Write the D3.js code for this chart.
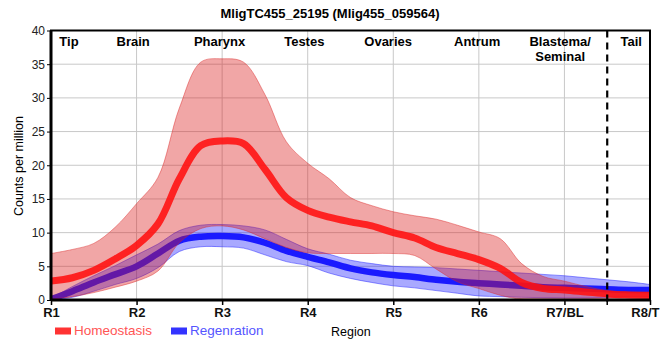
<!DOCTYPE html>
<html><head><meta charset="utf-8">
<script src="https://cdn.jsdelivr.net/npm/d3@7"></script>
<style>
html,body{margin:0;padding:0;background:#fff;}
svg{display:block;font-family:"Liberation Sans",Arial,sans-serif;}
</style></head>
<body><svg id="chart" width="660" height="360"></svg>
<script>
const title = "MligTC455_25195 (Mlig455_059564)";
const tickLabels = ["R1","R2","R3","R4","R5","R6","R7/BL","R8/T"];
const yTicks = [0,5,10,15,20,25,30,35,40];
const regionNames = [["Tip"],["Brain"],["Pharynx"],["Testes"],["Ovaries"],["Antrum"],["Blastema/","Seminal"],["Tail"]];
const regionPos = [1.21,1.96,2.97,3.96,4.94,5.98,6.95,7.78];
const dividerPos = 7.5;
const positions = [1,1.25,1.5,1.75,2,2.25,2.5,2.75,3,3.25,3.5,3.75,4,4.25,4.5,4.75,5,5.25,5.5,5.75,6,6.25,6.5,6.75,7,7.25,7.5,7.75,8];
const homeoMean = [2.8,3.3,4.4,6.1,8.1,11.3,18.0,22.9,23.6,23.2,19.4,15.2,13.3,12.3,11.6,11.0,10.0,9.2,7.8,6.9,6.0,4.7,2.6,1.7,1.5,1.2,0.9,0.75,0.65];
const homeoUpper = [6.9,7.5,8.4,10.8,14.3,18.2,28.5,35.3,35.8,35.3,30.5,23.5,20.3,18.0,15.2,14.0,13.1,12.5,12.0,11.1,10.1,9.1,5.4,3.5,2.8,2.0,1.4,1.2,1.2];
const homeoLower = [0.1,0.5,1.1,1.9,2.8,4.3,8.5,10.6,11.0,10.4,9.1,7.8,7.0,6.9,6.9,6.9,6.9,6.6,4.6,2.7,1.7,0.7,0.1,0,0,0,0,0,0];
const regenMean = [0.1,1.3,2.6,3.8,5.0,6.9,8.8,9.4,9.5,9.3,8.5,7.3,6.4,5.6,4.7,4.1,3.7,3.4,3.0,2.7,2.5,2.3,2.1,1.9,1.8,1.7,1.6,1.5,1.5];
const regenUpper = [0.2,2.0,3.6,5.1,6.7,8.3,10.3,11.1,11.2,11.0,10.4,9.0,7.6,6.8,5.9,5.4,5.0,4.9,4.8,4.6,4.4,4.2,4.0,3.8,3.6,3.3,3.0,2.7,2.3];
const regenLower = [0,0.4,1.3,2.3,3.2,4.8,7.2,7.9,7.9,7.7,6.7,5.7,5.1,4.0,3.2,2.6,2.1,1.8,1.4,1.0,0.6,0.5,0.4,0.35,0.3,0.3,0.4,0.5,0.5];
const seriesNames = ["Homeostasis","Regenration"];

const svg = d3.select("#chart");
const x = d3.scaleLinear().domain([1,8]).range([51,650]);
const y = d3.scaleLinear().domain([0,40]).range([300,30.5]);

// grid
const g = svg.append("g");
g.selectAll(".vg").data(d3.range(2,8)).enter().append("line")
  .attr("x1",d=>x(d)).attr("x2",d=>x(d)).attr("y1",y(0)).attr("y2",y(40))
  .attr("stroke","#c8c8c8").attr("stroke-width",1);
g.selectAll(".hg").data(yTicks.slice(1,-1)).enter().append("line")
  .attr("x1",x(1)).attr("x2",x(8)).attr("y1",d=>y(d)).attr("y2",d=>y(d))
  .attr("stroke","#c8c8c8").attr("stroke-width",1);

svg.append("clipPath").attr("id","clip").append("rect")
  .attr("x",x(1)).attr("y",y(40)).attr("width",x(8)-x(1)).attr("height",y(0)-y(40));
const plot = svg.append("g").attr("clip-path","url(#clip)");

const idx = d3.range(positions.length);
const curve = d3.curveCatmullRom.alpha(0.5);
const area = (lo,hi)=>d3.area().curve(curve).x(i=>x(positions[i])).y0(i=>y(lo[i])).y1(i=>y(hi[i]));
const line = (m)=>d3.line().curve(curve).x(i=>x(positions[i])).y(i=>y(m[i]));

// regeneration band + line
plot.append("path").datum(idx).attr("d",area(regenLower,regenUpper))
  .attr("fill","rgba(10,10,255,0.35)").attr("stroke","rgba(40,40,255,0.5)").attr("stroke-width",1);
plot.append("path").datum(idx).attr("d",line(regenMean))
  .attr("fill","none").attr("stroke","#1a1aff").attr("stroke-width",6.5);
// homeostasis band + line
plot.append("path").datum(idx).attr("d",area(homeoLower,homeoUpper))
  .attr("fill","rgba(218,22,22,0.38)").attr("stroke","rgba(220,40,40,0.45)").attr("stroke-width",1);
plot.append("path").datum(idx).attr("d",line(homeoMean))
  .attr("fill","none").attr("stroke","#ff1010").attr("stroke-width",7).attr("stroke-opacity",0.88);

// divider
svg.append("line").attr("x1",x(dividerPos)).attr("x2",x(dividerPos)).attr("y1",y(40)).attr("y2",y(0)+5)
  .attr("stroke","#000").attr("stroke-width",2.2).attr("stroke-dasharray","7,5");

// box
svg.append("rect").attr("x",x(1)).attr("y",y(40)).attr("width",x(8)-x(1)).attr("height",y(0)-y(40))
  .attr("fill","none").attr("stroke","#000").attr("stroke-width",2);
svg.append("line").attr("x1",x(1)).attr("x2",x(8)).attr("y1",y(0)).attr("y2",y(0)).attr("stroke","#000").attr("stroke-width",3);
svg.append("line").attr("x1",x(1)).attr("x2",x(1)).attr("y1",y(0)).attr("y2",y(40)).attr("stroke","#000").attr("stroke-width",3);

// axes
const xAxis = d3.axisBottom(x).tickValues([1,2,3,4,5,6,7,8]).tickFormat((d,i)=>tickLabels[i]).tickSize(5).tickPadding(3);
const xa = svg.append("g").attr("transform",`translate(0,${y(0)})`).call(xAxis);
xa.select(".domain").remove();
xa.selectAll("line").attr("stroke","#000").attr("stroke-width",1.5);
xa.selectAll("text").attr("font-size","13px").attr("font-weight","bold").attr("fill","#111")
  .attr("font-family","'Liberation Sans',Arial,sans-serif");
xa.selectAll("text").filter(d=>d===8).attr("text-anchor","end").attr("x",9);
svg.append("line").attr("x1",x(dividerPos)).attr("x2",x(dividerPos)).attr("y1",y(0)).attr("y2",y(0)+5).attr("stroke","#000").attr("stroke-width",1.5);

const yAxis = d3.axisLeft(y).tickValues(yTicks).tickSize(4).tickPadding(2);
const ya = svg.append("g").attr("transform",`translate(${x(1)},0)`).call(yAxis);
ya.select(".domain").remove();
ya.selectAll("line").attr("stroke","#000");
ya.selectAll("text").attr("font-size","12px").attr("fill","#222").attr("font-family","'Liberation Sans',Arial,sans-serif");

// title
svg.append("text").attr("x",330).attr("y",18).attr("text-anchor","middle")
  .attr("font-size","13px").attr("font-weight","bold").text(title);

// region labels
regionNames.forEach((lines,i)=>{
  const t = svg.append("text").attr("x",x(regionPos[i])).attr("y",46).attr("text-anchor","middle")
    .attr("font-size","13px").attr("font-weight","bold");
  lines.forEach((s,j)=>t.append("tspan").attr("x",x(regionPos[i])).attr("dy",j===0?0:15).text(s));
});

// y label
svg.append("text").attr("transform","translate(23,166) rotate(-90)").attr("text-anchor","middle")
  .attr("font-size","12.5px").text("Counts per million");

// legend
const legend = [{name:seriesNames[0],rect:"#ff3333",txt:"#ff5555",x:55},{name:seriesNames[1],rect:"#3333ff",txt:"#5555ff",x:171}];
legend.forEach(l=>{
  svg.append("rect").attr("x",l.x).attr("y",327.5).attr("width",16).attr("height",7).attr("fill",l.rect);
  svg.append("text").attr("x",l.x+19).attr("y",335).attr("font-size","13.5px").attr("fill",l.txt).text(l.name);
});
svg.append("text").attr("x",331).attr("y",336).attr("font-size","12.5px").attr("fill","#000").text("Region");
</script></body></html>
